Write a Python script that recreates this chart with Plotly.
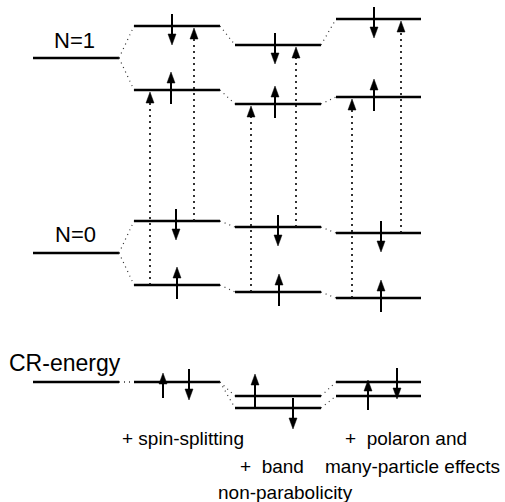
import plotly.graph_objects as go

# ---- data (energy positions, in px from top) ----
columns = ["base", "spin-splitting", "non-parabolicity", "polaron"]
col_x0 = [33, 134, 235, 336]
col_x1 = [119, 220, 321, 421]

# N=1 levels (spin-up lower, spin-down upper) per column
n1_up = [58, 90, 104, 97]
n1_down = [58, 26, 45, 19]
# N=0 levels
n0_up = [253, 285, 292, 298]
n0_down = [253, 221, 227, 233]
# CR energies (two lines per column)
cr_a = [382, 382, 396, 382]
cr_b = [382, 382, 408, 396]

# spin arrow x positions per split column (N=1 down, N=1 up, N=0 down, N=0 up)
n1_down_ax = [172, 275, 374]
n1_up_ax = [171, 275, 374]
n0_down_ax = [176, 278, 381]
n0_up_ax = [177, 279, 381]
# transition (dotted) arrow x positions: spin-up, spin-down
tr_up_x = [150, 251, 352]
tr_down_x = [194, 296, 401]
# CR arrows: (x, start, end)
cr_arrows = [(163, 398, 373), (189, 369, 400),
             (255, 407, 374), (293, 398, 429),
             (368, 410, 380), (397, 368, 399)]

level_labels = ["N=1", "N=0"]
bottom_labels = ["+ spin-splitting", "+  band", "non-parabolicity",
                 "+  polaron and", "many-particle effects"]

W, H = 505, 502
FONT = "Liberation Sans, Arial, sans-serif"

fig = go.Figure()
shapes = []


def hline(x0, x1, y, w=2.6):
    shapes.append(dict(type="line", x0=x0, x1=x1, y0=y, y1=y,
                       line=dict(color="black", width=w)))


def conn(x0, y0, x1, y1):
    shapes.append(dict(type="line", x0=x0, x1=x1, y0=y0, y1=y1,
                       line=dict(color="#333", width=1.2, dash="1px,4px")))


def head(x, tip, direction, L=11, hw=4.0):
    # direction: -1 points up (tip has smaller y), +1 points down
    yb = tip - direction * L
    shapes.append(dict(type="path",
                       path=f"M {x-hw},{yb} L {x},{tip} L {x+hw},{yb} Z",
                       fillcolor="black", line=dict(color="black", width=0.5)))


def arrow(x0, y0, x1, y1, dotted=False):
    d = 1 if y1 > y0 else -1
    shapes.append(dict(type="line", x0=x0, x1=x1, y0=y0, y1=y1 - d * 8,
                       line=dict(color="black" if not dotted else "#111",
                                 width=2.0 if not dotted else 1.7,
                                 dash="solid" if not dotted else "2px,4px")))
    head(x1, y1, d)


# energy levels
for i in range(4):
    for ys in ({n1_up[i], n1_down[i]}, {n0_up[i], n0_down[i]}, {cr_a[i], cr_b[i]}):
        for y in ys:
            hline(col_x0[i], col_x1[i], y)

# connectors
for i in range(3):
    for a, b in ((n1_up, n1_up), (n1_down, n1_down), (n0_up, n0_up), (n0_down, n0_down),
                 (cr_a, cr_a), (cr_b, cr_b)):
        conn(col_x1[i], a[i], col_x0[i + 1], b[i + 1])

# spin arrows
for j in range(3):
    c = j + 1
    arrow(n1_down_ax[j], n1_down[c] - 12, n1_down_ax[j], n1_down[c] + 19)
    arrow(n1_up_ax[j], n1_up[c] + 14, n1_up_ax[j], n1_up[c] - 18)
    arrow(n0_down_ax[j], n0_down[c] - 12, n0_down_ax[j], n0_down[c] + 19)
    arrow(n0_up_ax[j], n0_up[c] + 14, n0_up_ax[j], n0_up[c] - 18)
    # transitions
    arrow(tr_up_x[j], n0_up[c], tr_up_x[j], n1_up[c] + 2, dotted=True)
    arrow(tr_down_x[j], n0_down[c], tr_down_x[j], n1_down[c] + 2, dotted=True)

for x, y0, y1 in cr_arrows:
    arrow(x, y0, x, y1)

# invisible trace to fix axes
fig.add_trace(go.Scatter(x=[0, W], y=[0, H], mode="markers",
                         marker=dict(opacity=0), hoverinfo="skip", showlegend=False))

ann = []
ann.append(dict(x=74, y=40, text=level_labels[0], font=dict(size=22)))
ann.append(dict(x=75, y=234, text=level_labels[1], font=dict(size=22)))
ann.append(dict(x=7, y=363, text="CR-energy", xanchor="left", font=dict(size=23)))
ann.append(dict(x=183, y=438, text=bottom_labels[0], font=dict(size=19)))
ann.append(dict(x=272, y=466, text=bottom_labels[1], font=dict(size=19)))
ann.append(dict(x=285, y=492, text=bottom_labels[2], font=dict(size=19)))
ann.append(dict(x=406, y=438, text=bottom_labels[3], font=dict(size=19)))
ann.append(dict(x=412, y=466, text=bottom_labels[4], font=dict(size=19)))
for a in ann:
    a.setdefault("xanchor", "center")
    a.update(xref="x", yref="y", showarrow=False, yanchor="middle")
    a["font"].update(family=FONT, color="black")

fig.update_layout(
    width=W, height=H, autosize=False,
    margin=dict(l=0, r=0, t=0, b=0),
    paper_bgcolor="white", plot_bgcolor="white",
    xaxis=dict(range=[0, W], visible=False, fixedrange=True),
    yaxis=dict(range=[H, 0], visible=False, fixedrange=True),
    shapes=shapes, annotations=ann,
    font=dict(family=FONT),
)

fig.write_html("out.html", config={"displayModeBar": False},
               post_script="document.body.style.margin='0';")
